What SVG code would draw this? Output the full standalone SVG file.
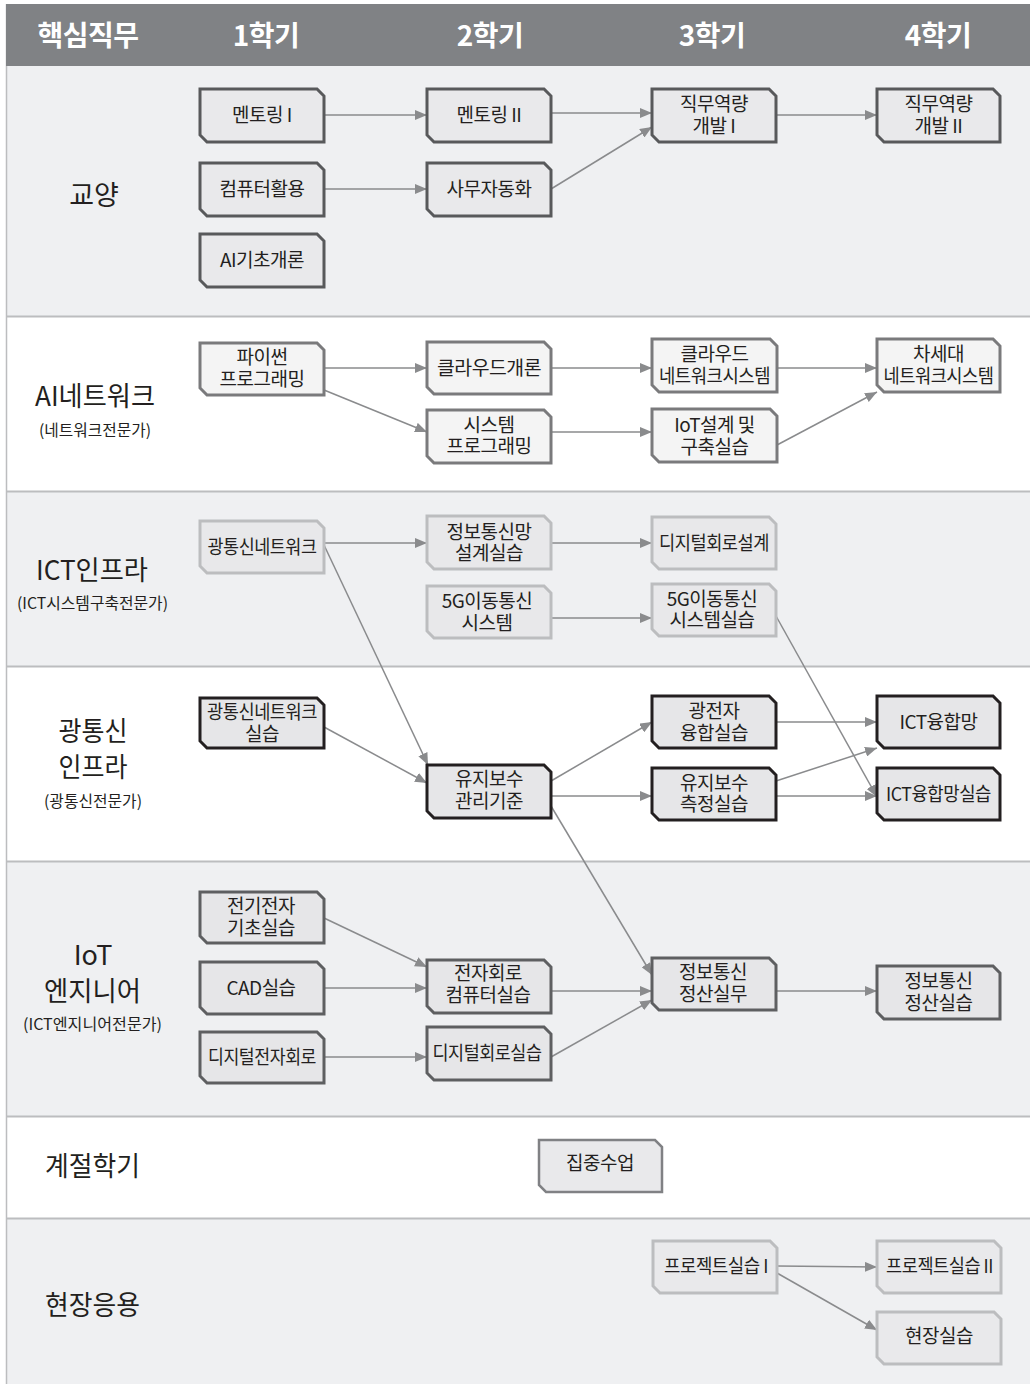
<svg xmlns="http://www.w3.org/2000/svg" width="1030" height="1384" viewBox="0 0 1030 1384">
<defs>
<style>
text{font-family:"Noto Sans CJK KR","Noto Sans",sans-serif;fill:#231f20}
.hd{font-size:28px;font-weight:700;fill:#ffffff;text-anchor:middle;letter-spacing:-0.5px}
.sec{font-size:27px;text-anchor:middle}
.sub{font-size:16px;text-anchor:middle}
.t{font-size:19px;text-anchor:middle;letter-spacing:-0.5px}
.bgl{fill:#eff0f2}
.bgw{fill:#ffffff}
.div{stroke:#bcbdbf;stroke-width:2}
.n1 path{fill:#e9e9eb;stroke:#58595b;stroke-width:3}
.n2 path{fill:#f4f4f4;stroke:#7a7a7c;stroke-width:3}
.n3 path{fill:#e8e8ea;stroke:#bcbdbf;stroke-width:3}
.n4 path{fill:#e6e6e8;stroke:#231f20;stroke-width:3}
.n5 path{fill:#e6e6e8;stroke:#5e5f61;stroke-width:3}
.n6 path{fill:#e9e9eb;stroke:#808184;stroke-width:2.5}
.n7 path{fill:#e9e9eb;stroke:#bcbdbf;stroke-width:3}
#edges line{stroke:#8a8b8d;stroke-width:1.5;marker-end:url(#ah)}
</style>
<marker id="ah" viewBox="0 0 12 10" refX="12" refY="5" markerWidth="12" markerHeight="10" markerUnits="userSpaceOnUse" orient="auto">
<path d="M0,0 L12,5 L0,10 Z" fill="#8a8b8d"/>
</marker>
</defs>

<!-- backgrounds -->
<rect x="0" y="0" width="1030" height="1384" fill="#ffffff"/>
<rect class="bgl" x="6" y="66" width="1024" height="250"/>
<rect class="bgw" x="6" y="317" width="1024" height="174"/>
<rect class="bgl" x="6" y="492" width="1024" height="174"/>
<rect class="bgw" x="6" y="667" width="1024" height="194"/>
<rect class="bgl" x="6" y="862" width="1024" height="254"/>
<rect class="bgw" x="6" y="1117" width="1024" height="101"/>
<rect class="bgl" x="6" y="1219" width="1024" height="165"/>
<line x1="6.5" y1="4" x2="6.5" y2="1384" stroke="#bcbdbf" stroke-width="1.5"/>
<g>
<line class="div" x1="6" y1="316.5" x2="1030" y2="316.5"/>
<line class="div" x1="6" y1="491.5" x2="1030" y2="491.5"/>
<line class="div" x1="6" y1="666.5" x2="1030" y2="666.5"/>
<line class="div" x1="6" y1="861.5" x2="1030" y2="861.5"/>
<line class="div" x1="6" y1="1116.5" x2="1030" y2="1116.5"/>
<line class="div" x1="6" y1="1218.5" x2="1030" y2="1218.5"/>
</g>

<!-- header -->
<g id="header">
<rect x="6" y="4" width="1024" height="62" fill="#808285"/>
<text class="hd" x="88" y="46">핵심직무</text>
<text class="hd" x="266" y="46">1학기</text>
<text class="hd" x="490" y="46">2학기</text>
<text class="hd" x="712" y="46">3학기</text>
<text class="hd" x="938" y="46">4학기</text>
</g>

<!-- section labels -->
<g id="sections">
<text class="sec" x="94" y="205">교양</text>
<text class="sec" x="95" y="406" textLength="120" lengthAdjust="spacingAndGlyphs">AI네트워크</text>
<text class="sub" x="95" y="436" textLength="112" lengthAdjust="spacingAndGlyphs">(네트워크전문가)</text>
<text class="sec" x="92" y="580" textLength="112" lengthAdjust="spacingAndGlyphs">ICT인프라</text>
<text class="sub" x="92.5" y="609" textLength="151" lengthAdjust="spacingAndGlyphs">(ICT시스템구축전문가)</text>
<text class="sec" x="93" y="741" textLength="69" lengthAdjust="spacingAndGlyphs">광통신</text>
<text class="sec" x="93" y="777" textLength="69" lengthAdjust="spacingAndGlyphs">인프라</text>
<text class="sub" x="93" y="807" textLength="98" lengthAdjust="spacingAndGlyphs">(광통신전문가)</text>
<text class="sec" x="93" y="965">IoT</text>
<text class="sec" x="92.5" y="1001" textLength="97" lengthAdjust="spacingAndGlyphs">엔지니어</text>
<text class="sub" x="92.5" y="1030" textLength="139" lengthAdjust="spacingAndGlyphs">(ICT엔지니어전문가)</text>
<text class="sec" x="92.5" y="1176" textLength="95" lengthAdjust="spacingAndGlyphs">계절학기</text>
<text class="sec" x="92.5" y="1315" textLength="95" lengthAdjust="spacingAndGlyphs">현장응용</text>
</g>

<!-- connectors -->
<g id="edges">
<line x1="324" y1="115" x2="427" y2="115"/>
<line x1="551" y1="113" x2="652" y2="113"/>
<line x1="551" y1="189" x2="652" y2="127"/>
<line x1="776" y1="115" x2="877" y2="115"/>
<line x1="324" y1="189" x2="427" y2="189"/>

<line x1="324" y1="368" x2="427" y2="368"/>
<line x1="324" y1="390" x2="427" y2="432"/>
<line x1="551" y1="368" x2="652" y2="368"/>
<line x1="551" y1="432" x2="652" y2="432"/>
<line x1="777" y1="368" x2="877" y2="368"/>
<line x1="777" y1="445" x2="877" y2="392"/>

<line x1="324" y1="543" x2="427" y2="543"/>
<line x1="551" y1="543" x2="652" y2="543"/>
<line x1="551" y1="618" x2="652" y2="618"/>
<line x1="324" y1="545" x2="428" y2="765"/>
<line x1="776" y1="616" x2="877" y2="797"/>

<line x1="324" y1="727" x2="427" y2="783"/>
<line x1="551" y1="781" x2="652" y2="722"/>
<line x1="551" y1="796" x2="652" y2="796"/>
<line x1="776" y1="722" x2="877" y2="722"/>
<line x1="776" y1="781" x2="877" y2="748"/>
<line x1="776" y1="796" x2="877" y2="796"/>
<line x1="551" y1="806" x2="652" y2="975"/>

<line x1="324" y1="918" x2="427" y2="967"/>
<line x1="324" y1="988" x2="427" y2="988"/>
<line x1="324" y1="1057" x2="427" y2="1057"/>
<line x1="551" y1="991" x2="652" y2="991"/>
<line x1="551" y1="1057" x2="652" y2="1000"/>
<line x1="776" y1="991" x2="877" y2="991"/>

<line x1="777" y1="1266" x2="877" y2="1267"/>
<line x1="777" y1="1273" x2="877" y2="1330"/>
</g>

<!-- 교양 -->
<g id="n-mentor1" class="n1"><path d="M200,89 H317 L324,96 V142 H207 L200,135 Z"/><text class="t" x="262" y="122">멘토링 I</text></g>
<g id="n-mentor2" class="n1"><path d="M427,89 H544 L551,96 V142 H434 L427,135 Z"/><text class="t" x="489" y="122">멘토링 II</text></g>
<g id="n-job1" class="n1"><path d="M652,89 H769 L776,96 V142 H659 L652,135 Z"/><text class="t" x="714" y="111">직무역량</text><text class="t" x="714" y="133">개발 I</text></g>
<g id="n-job2" class="n1"><path d="M877,89 H993 L1000,96 V142 H884 L877,135 Z"/><text class="t" x="938.5" y="111">직무역량</text><text class="t" x="938.5" y="133">개발 II</text></g>
<g id="n-comp" class="n1"><path d="M200,163 H317 L324,170 V216 H207 L200,209 Z"/><text class="t" x="262" y="196">컴퓨터활용</text></g>
<g id="n-office" class="n1"><path d="M427,163 H544 L551,170 V216 H434 L427,209 Z"/><text class="t" x="489" y="196">사무자동화</text></g>
<g id="n-ai" class="n1"><path d="M200,234 H317 L324,241 V287 H207 L200,280 Z"/><text class="t" x="262" y="267">AI기초개론</text></g>

<!-- AI네트워크 -->
<g id="n-python" class="n2"><path d="M200,343 H317 L324,350 V395 H207 L200,388 Z"/><text class="t" x="262" y="364">파이썬</text><text class="t" x="262" y="386">프로그래밍</text></g>
<g id="n-cloud" class="n2"><path d="M427,342 H544 L551,349 V394 H434 L427,387 Z"/><text class="t" x="489" y="375" textLength="104" lengthAdjust="spacingAndGlyphs">클라우드개론</text></g>
<g id="n-sysprog" class="n2"><path d="M427,410 H544 L551,417 V463 H434 L427,456 Z"/><text class="t" x="489" y="432">시스템</text><text class="t" x="489" y="453">프로그래밍</text></g>
<g id="n-cloudnet" class="n2"><path d="M652,339 H770 L777,346 V392 H659 L652,385 Z"/><text class="t" x="714.5" y="361">클라우드</text><text class="t" x="714.5" y="383" textLength="111" lengthAdjust="spacingAndGlyphs">네트워크시스템</text></g>
<g id="n-iot" class="n2"><path d="M652,409 H770 L777,416 V462 H659 L652,455 Z"/><text class="t" x="714.5" y="432">IoT설계 및</text><text class="t" x="714.5" y="454">구축실습</text></g>
<g id="n-nextnet" class="n2"><path d="M877,339 H993 L1000,346 V392 H884 L877,385 Z"/><text class="t" x="938.5" y="361">차세대</text><text class="t" x="938.5" y="383" textLength="110" lengthAdjust="spacingAndGlyphs">네트워크시스템</text></g>

<!-- ICT인프라 -->
<g id="n-optnet" class="n3"><path d="M200,521 H317 L324,528 V573 H207 L200,566 Z"/><text class="t" x="262" y="554" textLength="109" lengthAdjust="spacingAndGlyphs">광통신네트워크</text></g>
<g id="n-infonet" class="n3"><path d="M427,516 H544 L551,523 V569 H434 L427,562 Z"/><text class="t" x="489" y="539">정보통신망</text><text class="t" x="489" y="560">설계실습</text></g>
<g id="n-digdesign" class="n3"><path d="M652,517 H769 L776,524 V569 H659 L652,562 Z"/><text class="t" x="714" y="550" textLength="110" lengthAdjust="spacingAndGlyphs">디지털회로설계</text></g>
<g id="n-5gsys" class="n3"><path d="M427,586 H544 L551,593 V638 H434 L427,631 Z"/><text class="t" x="487" y="608">5G이동통신</text><text class="t" x="487" y="630">시스템</text></g>
<g id="n-5glab" class="n3"><path d="M652,584 H769 L776,591 V636 H659 L652,629 Z"/><text class="t" x="712" y="606">5G이동통신</text><text class="t" x="712" y="627">시스템실습</text></g>

<!-- 광통신 인프라 -->
<g id="n-optlab" class="n4"><path d="M200,698 H317 L324,705 V748 H207 L200,741 Z"/><text class="t" x="262" y="719" textLength="110" lengthAdjust="spacingAndGlyphs">광통신네트워크</text><text class="t" x="262" y="741">실습</text></g>
<g id="n-maint" class="n4"><path d="M427,765 H544 L551,772 V818 H434 L427,811 Z"/><text class="t" x="489" y="786">유지보수</text><text class="t" x="489" y="808">관리기준</text></g>
<g id="n-optoelec" class="n4"><path d="M652,696 H769 L776,703 V748 H659 L652,741 Z"/><text class="t" x="714" y="718">광전자</text><text class="t" x="714" y="740">융합실습</text></g>
<g id="n-maintlab" class="n4"><path d="M652,768 H769 L776,775 V820 H659 L652,813 Z"/><text class="t" x="714" y="790">유지보수</text><text class="t" x="714" y="811">측정실습</text></g>
<g id="n-ictnet" class="n4"><path d="M877,696 H993 L1000,703 V748 H884 L877,741 Z"/><text class="t" x="938.5" y="729">ICT융합망</text></g>
<g id="n-ictlab" class="n4"><path d="M877,768 H993 L1000,775 V820 H884 L877,813 Z"/><text class="t" x="938.5" y="801" textLength="105" lengthAdjust="spacingAndGlyphs">ICT융합망실습</text></g>

<!-- IoT 엔지니어 -->
<g id="n-elec" class="n5"><path d="M200,892 H317 L324,899 V943 H207 L200,936 Z"/><text class="t" x="261" y="913">전기전자</text><text class="t" x="261" y="935">기초실습</text></g>
<g id="n-cad" class="n5"><path d="M200,962 H317 L324,969 V1014 H207 L200,1007 Z"/><text class="t" x="261" y="995">CAD실습</text></g>
<g id="n-digelec" class="n5"><path d="M200,1032 H317 L324,1039 V1083 H207 L200,1076 Z"/><text class="t" x="262" y="1064" textLength="108" lengthAdjust="spacingAndGlyphs">디지털전자회로</text></g>
<g id="n-circuit" class="n5"><path d="M427,960 H544 L551,967 V1013 H434 L427,1006 Z"/><text class="t" x="488" y="980">전자회로</text><text class="t" x="488" y="1002">컴퓨터실습</text></g>
<g id="n-diglab" class="n5"><path d="M427,1027 H544 L551,1034 V1080 H434 L427,1073 Z"/><text class="t" x="487" y="1060" textLength="109" lengthAdjust="spacingAndGlyphs">디지털회로실습</text></g>
<g id="n-infowork" class="n5"><path d="M652,958 H769 L776,965 V1010 H659 L652,1003 Z"/><text class="t" x="713" y="979">정보통신</text><text class="t" x="713" y="1001">정산실무</text></g>
<g id="n-infolab" class="n5"><path d="M877,966 H993 L1000,973 V1019 H884 L877,1012 Z"/><text class="t" x="938.5" y="988">정보통신</text><text class="t" x="938.5" y="1010">정산실습</text></g>

<!-- 계절학기 -->
<g id="n-intensive" class="n6"><path d="M539,1140 H655 L662,1147 V1192 H546 L539,1185 Z"/><text class="t" x="600" y="1170">집중수업</text></g>

<!-- 현장응용 -->
<g id="n-proj1" class="n7"><path d="M653,1241 H770 L777,1248 V1293 H660 L653,1286 Z"/><text class="t" x="716" y="1273" textLength="104" lengthAdjust="spacingAndGlyphs">프로젝트실습 I</text></g>
<g id="n-proj2" class="n7"><path d="M877,1241 H994 L1001,1248 V1293 H884 L877,1286 Z"/><text class="t" x="939.5" y="1273" textLength="107" lengthAdjust="spacingAndGlyphs">프로젝트실습 II</text></g>
<g id="n-field" class="n7"><path d="M877,1312 H994 L1001,1319 V1364 H884 L877,1357 Z"/><text class="t" x="939" y="1343">현장실습</text></g>
</svg>
